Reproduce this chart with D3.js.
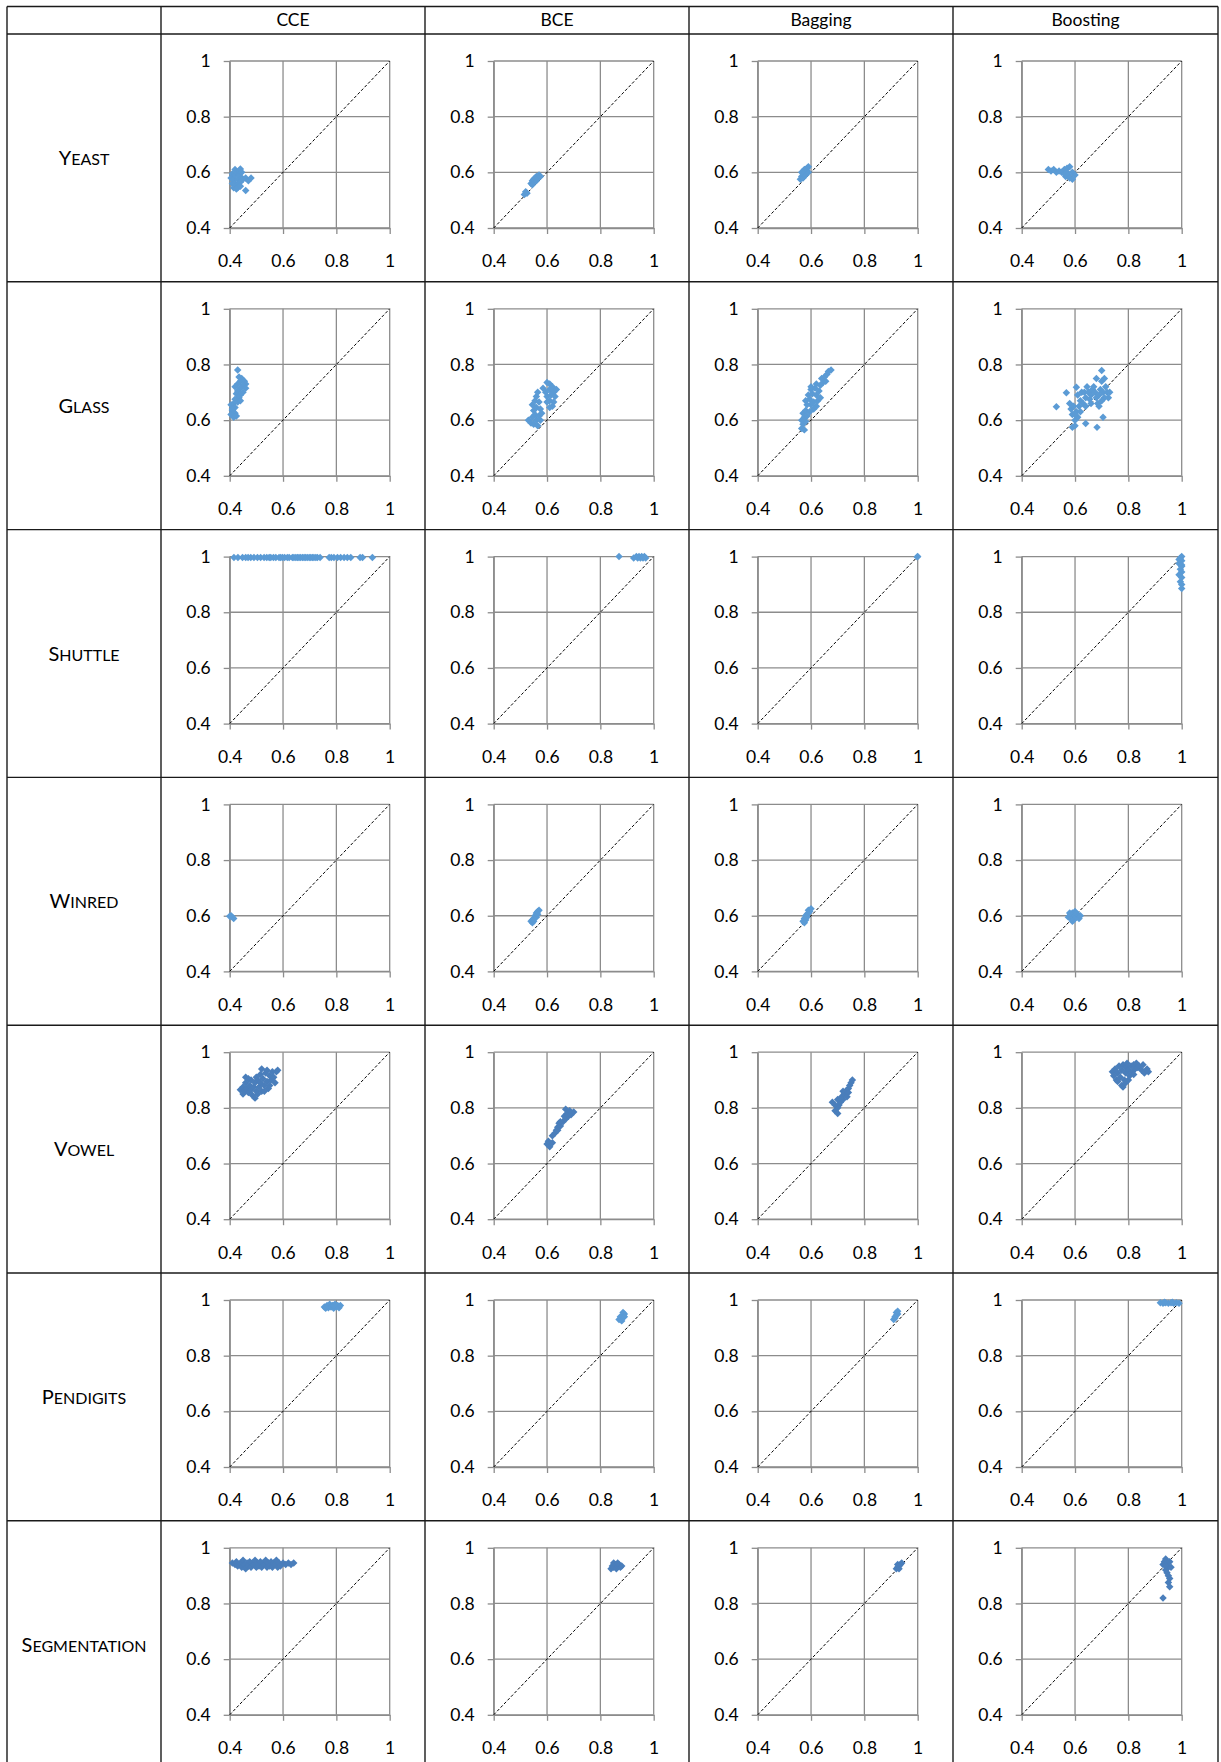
<!DOCTYPE html>
<html>
<head>
<meta charset="utf-8">
<script src="https://cdn.jsdelivr.net/npm/d3@7"></script>
<style>
  body { margin: 0; background: #fff; }
  text { font-family: Lato, "Open Sans", sans-serif; fill: #000; }
</style>
</head>
<body>
<div id="vis"></div>
<script>
// column / row labels
const methods = ["CCE", "BCE", "Bagging", "Boosting"];
const datasets = ["Yeast", "Glass", "Shuttle", "Winred", "Vowel", "Pendigits", "Segmentation"];
const tickValues = [0.4, 0.6, 0.8, 1];

// scatter points [x, y]
const yeastCCE = [[0.405,0.58],[0.41,0.56],[0.41,0.595],[0.415,0.545],[0.415,0.575],[0.42,0.61],[0.42,0.59],[0.42,0.56],[0.425,0.54],[0.425,0.6],[0.43,0.575],[0.43,0.555],[0.435,0.605],[0.435,0.59],[0.44,0.612],[0.44,0.565],[0.445,0.6],[0.445,0.58],[0.45,0.575],[0.46,0.58],[0.47,0.57],[0.48,0.58],[0.46,0.535],[0.43,0.545],[0.44,0.55]];
const yeastBCE = [[0.515,0.52],[0.52,0.53],[0.525,0.525],[0.54,0.56],[0.545,0.57],[0.55,0.565],[0.55,0.575],[0.555,0.58],[0.56,0.57],[0.56,0.585],[0.565,0.58],[0.57,0.59],[0.575,0.585],[0.545,0.555]];
const yeastBagging = [[0.56,0.575],[0.565,0.585],[0.57,0.58],[0.57,0.595],[0.575,0.6],[0.58,0.61],[0.58,0.59],[0.585,0.615],[0.59,0.6],[0.59,0.62],[0.575,0.61],[0.565,0.6]];
const yeastBoosting = [[0.5,0.61],[0.51,0.605],[0.52,0.61],[0.53,0.6],[0.54,0.605],[0.55,0.6],[0.56,0.61],[0.57,0.615],[0.58,0.62],[0.59,0.6],[0.575,0.59],[0.565,0.585],[0.58,0.58],[0.59,0.575],[0.6,0.59],[0.56,0.595],[0.57,0.6]];

const glassCCE = [[0.43,0.78],[0.435,0.755],[0.445,0.75],[0.44,0.74],[0.455,0.74],[0.46,0.73],[0.45,0.725],[0.43,0.73],[0.42,0.72],[0.44,0.715],[0.43,0.705],[0.425,0.695],[0.44,0.69],[0.435,0.68],[0.42,0.675],[0.43,0.665],[0.44,0.67],[0.415,0.66],[0.405,0.655],[0.42,0.645],[0.41,0.635],[0.42,0.625],[0.405,0.62],[0.425,0.615],[0.415,0.61],[0.41,0.64],[0.45,0.7],[0.46,0.715]];
const glassBCE = [[0.53,0.6],[0.54,0.59],[0.55,0.585],[0.565,0.58],[0.56,0.6],[0.545,0.61],[0.555,0.62],[0.57,0.615],[0.575,0.6],[0.55,0.635],[0.56,0.645],[0.545,0.655],[0.555,0.67],[0.56,0.685],[0.565,0.7],[0.57,0.665],[0.575,0.64],[0.58,0.625],[0.585,0.715],[0.6,0.735],[0.61,0.73],[0.62,0.72],[0.635,0.71],[0.625,0.7],[0.61,0.71],[0.595,0.7],[0.6,0.685],[0.615,0.69],[0.63,0.685],[0.625,0.665],[0.61,0.67],[0.6,0.665],[0.62,0.65],[0.61,0.645]];
const glassBagging = [[0.565,0.57],[0.575,0.565],[0.57,0.585],[0.58,0.595],[0.565,0.6],[0.575,0.61],[0.585,0.615],[0.57,0.625],[0.58,0.635],[0.595,0.63],[0.61,0.64],[0.62,0.65],[0.6,0.655],[0.585,0.655],[0.58,0.67],[0.595,0.675],[0.61,0.665],[0.625,0.67],[0.635,0.68],[0.59,0.69],[0.605,0.695],[0.62,0.69],[0.6,0.71],[0.615,0.715],[0.63,0.705],[0.62,0.73],[0.635,0.725],[0.645,0.735],[0.655,0.74],[0.65,0.755],[0.66,0.765],[0.665,0.775],[0.675,0.78],[0.64,0.75],[0.6,0.72]];
const glassBoosting = [[0.53,0.648],[0.5675,0.698],[0.6825,0.574],[0.705,0.61],[0.7,0.778],[0.605,0.718],[0.64,0.588],[0.59,0.574],[0.6,0.58],[0.58,0.66],[0.585,0.64],[0.59,0.62],[0.6,0.6],[0.595,0.65],[0.605,0.63],[0.61,0.61],[0.615,0.65],[0.62,0.67],[0.61,0.69],[0.625,0.7],[0.635,0.7],[0.64,0.68],[0.63,0.66],[0.645,0.72],[0.65,0.7],[0.655,0.675],[0.66,0.69],[0.665,0.71],[0.67,0.72],[0.675,0.7],[0.68,0.68],[0.685,0.66],[0.69,0.69],[0.695,0.71],[0.7,0.74],[0.71,0.75],[0.705,0.7],[0.715,0.72],[0.72,0.7],[0.725,0.68],[0.73,0.7],[0.71,0.68],[0.69,0.65],[0.7,0.67],[0.66,0.66],[0.62,0.63],[0.68,0.75],[0.6,0.62],[0.64,0.65]];

const shuttleCCE = [[0.416,0.997],[0.431,0.997],[0.448,0.997],[0.46,0.997],[0.469,0.997],[0.479,0.997],[0.491,0.997],[0.504,0.997],[0.516,0.997],[0.529,0.997],[0.539,0.997],[0.548,0.997],[0.554,0.997],[0.564,0.997],[0.573,0.997],[0.585,0.997],[0.591,0.997],[0.598,0.997],[0.606,0.997],[0.616,0.997],[0.623,0.997],[0.635,0.997],[0.641,0.997],[0.648,0.997],[0.654,0.997],[0.66,0.997],[0.666,0.997],[0.673,0.997],[0.679,0.997],[0.685,0.997],[0.691,0.997],[0.698,0.997],[0.704,0.997],[0.71,0.997],[0.716,0.997],[0.723,0.997],[0.729,0.997],[0.739,0.997],[0.773,0.997],[0.781,0.997],[0.791,0.997],[0.804,0.997],[0.816,0.997],[0.829,0.997],[0.841,0.997],[0.854,0.997],[0.889,0.997],[0.898,0.997],[0.935,0.997]];
const shuttleBCE = [[0.87,1],[0.925,0.995],[0.935,1],[0.94,0.995],[0.945,1],[0.95,0.995],[0.955,1],[0.96,0.995],[0.965,1],[0.97,0.995]];
const shuttleBagging = [[1,1],[0.998,0.999]];
const shuttleBoosting = [[1,1],[0.995,0.995],[1,0.985],[0.99,0.975],[1,0.965],[0.995,0.955],[1,0.945],[0.99,0.935],[1,0.925],[0.995,0.91],[1,0.9],[1,0.885],[0.99,0.99],[1,0.97]];

const winredCCE = [[0.405,0.6],[0.41,0.595],[0.415,0.59],[0.4,0.598]];
const winredBCE = [[0.54,0.58],[0.545,0.585],[0.55,0.59],[0.545,0.575],[0.555,0.6],[0.56,0.595],[0.56,0.61],[0.565,0.605],[0.57,0.62],[0.55,0.58],[0.565,0.615]];
const winredBagging = [[0.57,0.58],[0.575,0.59],[0.58,0.585],[0.58,0.6],[0.585,0.605],[0.59,0.61],[0.59,0.62],[0.595,0.615],[0.575,0.575],[0.585,0.595],[0.6,0.625]];
const winredBoosting = [[0.58,0.6],[0.585,0.59],[0.59,0.61],[0.6,0.6],[0.595,0.585],[0.605,0.595],[0.61,0.605],[0.6,0.615],[0.59,0.58],[0.615,0.59],[0.575,0.595],[0.62,0.6],[0.58,0.61]];

const vowelCCE = [[0.44,0.865],[0.45,0.875],[0.455,0.86],[0.46,0.89],[0.465,0.87],[0.47,0.855],[0.475,0.88],[0.48,0.9],[0.48,0.865],[0.485,0.845],[0.49,0.875],[0.495,0.89],[0.495,0.835],[0.5,0.86],[0.505,0.85],[0.505,0.9],[0.51,0.875],[0.515,0.92],[0.515,0.89],[0.52,0.94],[0.52,0.86],[0.525,0.905],[0.53,0.88],[0.535,0.925],[0.54,0.935],[0.54,0.895],[0.545,0.87],[0.55,0.915],[0.555,0.9],[0.56,0.93],[0.565,0.91],[0.57,0.89],[0.575,0.93],[0.58,0.935],[0.46,0.91],[0.5,0.91],[0.53,0.86],[0.55,0.88],[0.45,0.85],[0.47,0.905]];
const vowelBCE = [[0.6,0.67],[0.61,0.66],[0.62,0.675],[0.605,0.68],[0.62,0.7],[0.63,0.71],[0.635,0.72],[0.64,0.73],[0.65,0.735],[0.645,0.745],[0.66,0.75],[0.67,0.76],[0.665,0.77],[0.68,0.77],[0.675,0.78],[0.69,0.775],[0.7,0.785],[0.685,0.79],[0.67,0.795],[0.65,0.75],[0.64,0.72]];
const vowelBagging = [[0.69,0.79],[0.7,0.8],[0.705,0.81],[0.71,0.82],[0.72,0.83],[0.715,0.84],[0.725,0.85],[0.73,0.86],[0.74,0.87],[0.745,0.88],[0.75,0.89],[0.755,0.9],[0.7,0.83],[0.69,0.81],[0.72,0.86],[0.735,0.84],[0.74,0.855],[0.68,0.82],[0.7,0.78]];
const vowelBoosting = [[0.74,0.93],[0.745,0.915],[0.75,0.94],[0.755,0.9],[0.76,0.925],[0.765,0.95],[0.77,0.91],[0.775,0.88],[0.775,0.935],[0.78,0.955],[0.785,0.9],[0.79,0.925],[0.79,0.945],[0.795,0.96],[0.8,0.935],[0.805,0.915],[0.81,0.95],[0.815,0.93],[0.82,0.955],[0.825,0.94],[0.83,0.96],[0.835,0.945],[0.84,0.95],[0.85,0.935],[0.855,0.955],[0.86,0.925],[0.87,0.94],[0.875,0.93],[0.76,0.895],[0.78,0.875],[0.8,0.9],[0.82,0.92],[0.79,0.89]];

const pendigitsCCE = [[0.755,0.975],[0.765,0.98],[0.77,0.972],[0.775,0.985],[0.78,0.975],[0.785,0.98],[0.79,0.97],[0.795,0.985],[0.8,0.975],[0.805,0.98],[0.81,0.972],[0.815,0.98],[0.76,0.97],[0.79,0.98]];
const pendigitsBCE = [[0.87,0.93],[0.875,0.94],[0.88,0.935],[0.885,0.945],[0.89,0.95],[0.885,0.955],[0.89,0.94],[0.88,0.925]];
const pendigitsBagging = [[0.91,0.93],[0.915,0.94],[0.92,0.945],[0.925,0.95],[0.92,0.955],[0.925,0.96],[0.915,0.935]];
const pendigitsBoosting = [[0.92,0.99],[0.93,0.988],[0.94,0.99],[0.95,0.988],[0.96,0.99],[0.97,0.988],[0.98,0.99],[0.99,0.988],[0.935,0.992],[0.965,0.992]];

const segmentationCCE = [[0.41,0.945],[0.42,0.94],[0.425,0.95],[0.43,0.935],[0.44,0.945],[0.445,0.93],[0.45,0.955],[0.455,0.94],[0.46,0.925],[0.465,0.945],[0.47,0.935],[0.475,0.95],[0.48,0.93],[0.485,0.945],[0.49,0.94],[0.495,0.955],[0.5,0.93],[0.505,0.945],[0.51,0.935],[0.515,0.95],[0.52,0.93],[0.525,0.945],[0.53,0.94],[0.535,0.955],[0.54,0.93],[0.545,0.945],[0.55,0.935],[0.555,0.95],[0.56,0.93],[0.565,0.945],[0.57,0.94],[0.575,0.955],[0.58,0.93],[0.585,0.945],[0.59,0.935],[0.6,0.945],[0.61,0.94],[0.62,0.945],[0.63,0.94],[0.64,0.945]];
const segmentationBCE = [[0.84,0.925],[0.845,0.935],[0.85,0.93],[0.855,0.94],[0.86,0.925],[0.865,0.935],[0.87,0.94],[0.875,0.93],[0.88,0.935],[0.85,0.945],[0.865,0.945]];
const segmentationBagging = [[0.92,0.925],[0.925,0.93],[0.93,0.935],[0.935,0.94],[0.93,0.925],[0.94,0.945],[0.925,0.94]];
const segmentationBoosting = [[0.93,0.94],[0.935,0.95],[0.94,0.96],[0.945,0.945],[0.95,0.93],[0.94,0.92],[0.945,0.91],[0.95,0.9],[0.955,0.89],[0.95,0.875],[0.955,0.86],[0.93,0.82],[0.94,0.935],[0.955,0.95],[0.96,0.93]];

// grid of panels, one row per dataset
const panels = [
  [yeastCCE, yeastBCE, yeastBagging, yeastBoosting],
  [glassCCE, glassBCE, glassBagging, glassBoosting],
  [shuttleCCE, shuttleBCE, shuttleBagging, shuttleBoosting],
  [winredCCE, winredBCE, winredBagging, winredBoosting],
  [vowelCCE, vowelBCE, vowelBagging, vowelBoosting],
  [pendigitsCCE, pendigitsBCE, pendigitsBagging, pendigitsBoosting],
  [segmentationCCE, segmentationBCE, segmentationBagging, segmentationBoosting],
];

// styling / layout
const lightBlue = "#5b9bd5";
const darkBlue = "#4a7ebb";
const rowColors = [lightBlue, lightBlue, lightBlue, lightBlue, darkBlue, lightBlue, darkBlue];
const gridColor = "#8c8c8c";

const width = 1221, height = 1762;
const tableLeft = 7, tableTop = 6.5, headerH = 27.5, rowH = 247.8;
const colX = [161, 425, 689, 953, 1218];
const plotOff = { left: 68.7, top: 27 };
const plotW = 160, plotH = 167;

var svg = d3.select("#vis").append("svg")
  .attr("width", width).attr("height", height);

svg.append("rect").attr("width", width).attr("height", height).attr("fill", "#fff");

var x = d3.scaleLinear().domain([0.4, 1]).range([0, plotW]);
var y = d3.scaleLinear().domain([0.4, 1]).range([plotH, 0]);

// Excel style diamond marker
const diamond = {
  draw(ctx, size) {
    const r = Math.sqrt(size / 2);
    ctx.moveTo(0, -r);
    ctx.lineTo(r, 0);
    ctx.lineTo(0, r);
    ctx.lineTo(-r, 0);
    ctx.closePath();
  },
};
const marker = d3.symbol().type(diamond).size(28);

// header row
svg.append("g")
  .selectAll("text")
  .data(methods)
  .join("text")
  .attr("x", (d, i) => (colX[i] + colX[i + 1]) / 2)
  .attr("y", tableTop + headerH / 2 + 6)
  .attr("text-anchor", "middle")
  .attr("font-size", 17.5)
  .text((d) => d);

// row labels in small caps: big first letter, rest as smaller capitals
const rowLabels = svg.append("g")
  .selectAll("text")
  .data(datasets)
  .join("text")
  .attr("x", (tableLeft + colX[0]) / 2)
  .attr("y", (d, i) => tableTop + headerH + i * rowH + rowH / 2 + 7)
  .attr("text-anchor", "middle");
rowLabels.append("tspan").attr("font-size", 20).text((d) => d[0]);
rowLabels.append("tspan").attr("font-size", 16).text((d) => d.slice(1).toUpperCase());

// panels
panels.forEach((row, r) => {
  row.forEach((pts, c) => {
    const ox = colX[c] + plotOff.left;
    const oy = tableTop + headerH + r * rowH + plotOff.top;
    const g = svg.append("g").attr("transform", `translate(${ox},${oy})`);

    // gridlines
    g.append("g")
      .selectAll("line")
      .data(tickValues)
      .join("line")
      .attr("x1", (d) => x(d)).attr("x2", (d) => x(d))
      .attr("y1", 0).attr("y2", plotH)
      .attr("stroke", gridColor).attr("stroke-width", 1.3);
    g.append("g")
      .selectAll("line")
      .data(tickValues)
      .join("line")
      .attr("x1", 0).attr("x2", plotW)
      .attr("y1", (d) => y(d)).attr("y2", (d) => y(d))
      .attr("stroke", gridColor).attr("stroke-width", 1.3);

    // axes
    const yAxis = g.append("g")
      .call(d3.axisLeft(y).tickValues(tickValues).tickFormat(d3.format("~g"))
        .tickSize(6).tickSizeOuter(0).tickPadding(13));
    const xAxis = g.append("g")
      .attr("transform", `translate(0,${plotH})`)
      .call(d3.axisBottom(x).tickValues(tickValues).tickFormat(d3.format("~g"))
        .tickSize(6).tickSizeOuter(0).tickPadding(21));
    [yAxis, xAxis].forEach((a) => {
      a.selectAll("path, line").attr("stroke", gridColor).attr("stroke-width", 1.3);
      a.selectAll("text").attr("font-size", 17.5).attr("font-family", "Lato").attr("fill", "#000");
    });

    // diagonal y = x
    g.append("line")
      .attr("x1", x(0.4)).attr("y1", y(0.4))
      .attr("x2", x(1)).attr("y2", y(1))
      .attr("stroke", "#000").attr("stroke-width", 1)
      .attr("stroke-dasharray", "3,2");

    // points
    g.append("g")
      .selectAll("path")
      .data(pts)
      .join("path")
      .attr("transform", (d) => `translate(${x(d[0])},${y(d[1])})`)
      .attr("d", marker)
      .attr("fill", rowColors[r]);
  });
});

// table borders
const tableBottom = tableTop + headerH + datasets.length * rowH;
const borders = svg.append("g").attr("stroke", "#1a1a1a").attr("stroke-width", 1.4);
[tableLeft].concat(colX).forEach((cx) => {
  borders.append("line").attr("x1", cx).attr("x2", cx).attr("y1", tableTop).attr("y2", tableBottom);
});
d3.range(datasets.length + 2).forEach((i) => {
  const ly = i === 0 ? tableTop : tableTop + headerH + (i - 1) * rowH;
  borders.append("line").attr("x1", tableLeft).attr("x2", colX[4]).attr("y1", ly).attr("y2", ly);
});
</script>
</body>
</html>
